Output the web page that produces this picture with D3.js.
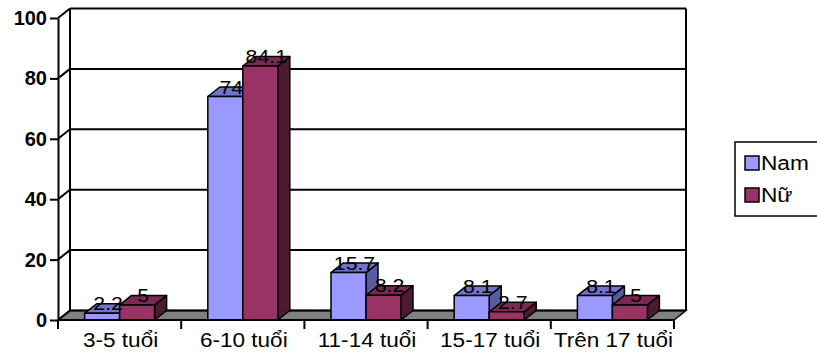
<!DOCTYPE html>
<html>
<head>
<meta charset="utf-8">
<script src="https://cdn.jsdelivr.net/npm/d3@7"></script>
<style>
  body { margin: 0; background: #fff; }
  svg { display: block; font-family: Arial, "Liberation Sans", sans-serif; }
</style>
</head>
<body>
<div id="chart"></div>
<script>
// 3D clustered columns, Excel style
const categories = ["3-5 tuổi", "6-10 tuổi", "11-14 tuổi", "15-17 tuổi", "Trên 17 tuổi"];
const seriesNames = ["Nam", "Nữ"];
const namValues = [2.2, 74, 15.7, 8.1, 8.1];
const nuValues = [5, 84.1, 8.2, 2.7, 5];
const yTicks = [0, 20, 40, 60, 80, 100];

(function() {
  const width = 817, height = 354;
  const DX = 12, DY = -9.5;   // depth offset of the walls / bars
  const colors = {
    "Nam": { front: "#9999ff", top: "#7373c8", side: "#5a5aa3" },
    "Nữ":  { front: "#993366", top: "#7a2952", side: "#4d1a33" }
  };
  const series = [
    { name: "Nam", values: namValues },
    { name: "Nữ", values: nuValues }
  ];

  const svg = d3.select('#chart').append('svg')
    .attr('width', width)
    .attr('height', height);

  const x = d3.scaleBand().domain(categories).range([58, 674]);
  const y = d3.scaleLinear().domain([0, 100]).range([320, 18]);
  const xs = d3.scaleBand().domain(seriesNames)
    .range([x.bandwidth() / 2 - 35, x.bandwidth() / 2 + 35]);

  const x0 = x.range()[0], x1 = x.range()[1];

  // back wall
  svg.append('rect')
    .attr('x', x0 + DX).attr('y', y(100) + DY)
    .attr('width', x1 - x0).attr('height', y(0) - y(100))
    .attr('fill', '#fff');

  // floor
  svg.append('path')
    .attr('d', `M${x0},${y(0)}L${x1},${y(0)}L${x1 + DX},${y(0) + DY}L${x0 + DX},${y(0) + DY}Z`)
    .attr('fill', '#808080')
    .attr('stroke', '#000')
    .attr('stroke-width', 1.5);

  // gridlines: back wall + left wall diagonals
  yTicks.forEach(t => {
    svg.append('line')
      .attr('x1', x0 + DX).attr('x2', x1 + DX)
      .attr('y1', y(t) + DY).attr('y2', y(t) + DY)
      .attr('stroke', '#000').attr('stroke-width', 2);
    svg.append('line')
      .attr('x1', x0).attr('x2', x0 + DX)
      .attr('y1', y(t)).attr('y2', y(t) + DY)
      .attr('stroke', '#000').attr('stroke-width', 2);
  });
  // wall edges
  svg.append('line')
    .attr('x1', x0 + DX).attr('x2', x0 + DX)
    .attr('y1', y(100) + DY).attr('y2', y(0) + DY)
    .attr('stroke', '#000').attr('stroke-width', 2);
  svg.append('line')
    .attr('x1', x1 + DX).attr('x2', x1 + DX)
    .attr('y1', y(100) + DY).attr('y2', y(0) + DY)
    .attr('stroke', '#000').attr('stroke-width', 2);

  // bars
  const labels = [];
  categories.forEach((cat, i) => {
    series.forEach(s => {
      const v = s.values[i];
      const bx = x(cat) + xs(s.name);
      const bw = xs.bandwidth();
      const ty = y(v), by = y(0);
      const c = colors[s.name];
      const g = svg.append('g')
        .attr('stroke', '#000')
        .attr('stroke-width', 1.5)
        .attr('stroke-linejoin', 'round');
      // side
      g.append('path')
        .attr('d', `M${bx + bw},${by}L${bx + bw + DX},${by + DY}L${bx + bw + DX},${ty + DY}L${bx + bw},${ty}Z`)
        .attr('fill', c.side);
      // top
      g.append('path')
        .attr('d', `M${bx},${ty}L${bx + DX},${ty + DY}L${bx + bw + DX},${ty + DY}L${bx + bw},${ty}Z`)
        .attr('fill', c.top);
      // front
      g.append('rect')
        .attr('x', bx).attr('y', ty)
        .attr('width', bw).attr('height', by - ty)
        .attr('fill', c.front);
      labels.push({ x: bx + bw / 2 + DX / 2, y: ty - 3, v });
    });
  });

  // data labels
  labels.forEach(d => {
    svg.append('text')
      .attr('transform', `translate(${d.x},${d.y}) scale(1.15,1)`)
      .attr('text-anchor', 'middle')
      .style('font-size', '18.5px')
      .attr('fill', '#000')
      .text(d.v);
  });

  // value axis
  const yAxis = svg.append('g')
    .attr('transform', `translate(${x0},0)`)
    .call(d3.axisLeft(y).tickValues(yTicks).tickSize(8).tickSizeOuter(0).tickPadding(3));
  yAxis.select('.domain').attr('stroke', '#000').attr('stroke-width', 2);
  yAxis.selectAll('.tick line').attr('stroke', '#000').attr('stroke-width', 2);
  yAxis.selectAll('.tick text')
    .style('font-size', '20px')
    .style('font-weight', 'bold')
    .attr('fill', '#000');

  // category axis
  svg.append('line')
    .attr('x1', x0).attr('x2', x1)
    .attr('y1', y(0)).attr('y2', y(0))
    .attr('stroke', '#000').attr('stroke-width', 2);
  categories.concat([null]).forEach(cat => {
    const tx = cat ? x(cat) : x1;
    svg.append('line')
      .attr('x1', tx).attr('x2', tx)
      .attr('y1', y(0)).attr('y2', y(0) + 9)
      .attr('stroke', '#000').attr('stroke-width', 2);
  });
  categories.forEach(cat => {
    svg.append('text')
      .attr('transform', `translate(${x(cat) + x.bandwidth() / 2 + 1},347) scale(1.1,1)`)
      .attr('text-anchor', 'middle')
      .style('font-size', '20.5px')
      .attr('fill', '#000')
      .text(cat);
  });

  // legend
  const legend = svg.append('g');
  legend.append('rect')
    .attr('x', 735).attr('y', 142)
    .attr('width', 100).attr('height', 74)
    .attr('fill', '#fff')
    .attr('stroke', '#000').attr('stroke-width', 1.5);
  seriesNames.forEach((name, i) => {
    const ly = 156 + i * 32;
    legend.append('rect')
      .attr('x', 745).attr('y', ly)
      .attr('width', 14).attr('height', 14)
      .attr('fill', colors[name].front)
      .attr('stroke', '#000').attr('stroke-width', 1.5);
    legend.append('text')
      .attr('transform', `translate(761,${ly + 14}) scale(1.08,1)`)
      .style('font-size', '21px')
      .attr('fill', '#000')
      .text(name);
  });
})();
</script>
</body>
</html>
